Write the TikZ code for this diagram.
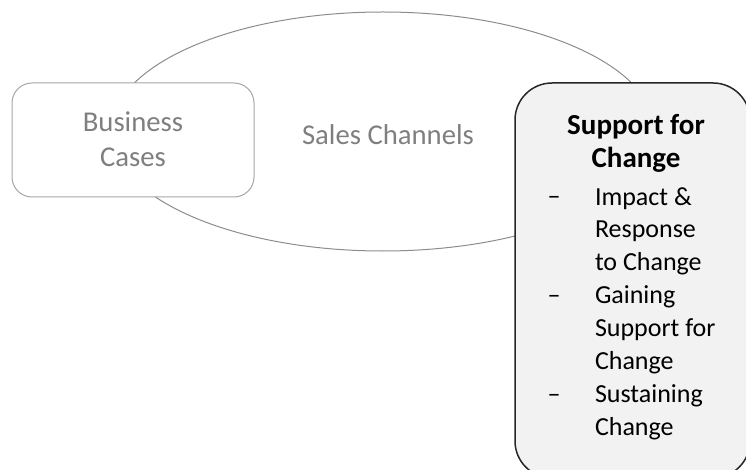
\documentclass[tikz,border=0pt]{standalone}
\usepackage{fontspec}
\setmainfont{Carlito}
\usetikzlibrary{shapes.geometric}
\definecolor{ellline}{HTML}{8C8C8C}
\definecolor{boxline}{HTML}{A6A6A6}
\definecolor{graytext}{HTML}{7F7F7F}
\definecolor{supfill}{HTML}{F2F2F2}
\definecolor{supline}{HTML}{262626}
\tikzset{
  grayfont/.style={text=graytext, font=\fontsize{28.7}{35}\selectfont},
  titlefont/.style={text=black, font=\fontsize{29}{33}\selectfont\bfseries},
  bodyfont/.style={text=black, font=\fontsize{26}{32.9}\selectfont},
  txt/.style={inner sep=0pt, outer sep=0pt},
}
\begin{document}
\begin{tikzpicture}[x=1pt,y=-1pt]
\useasboundingbox (0,0) rectangle (746,470);
% ellipse
\node[ellipse, draw=ellline, line width=1pt, minimum width=544pt, minimum height=239pt, inner sep=0pt] (sales) at (383,131.5) {};
\node[txt, grayfont, anchor=base] (salestext) at (388,145) {Sales Channels};
% business cases
\node[draw=boxline, fill=white, rounded corners=20pt, line width=1pt, minimum width=242pt, minimum height=114pt, inner sep=0pt] (biz) at (133,140) {};
\node[txt, grayfont, anchor=base, align=center] (biztext) at (133,166.7) {Business\\Cases};
% support for change
\node[draw=supline, fill=supfill, rounded corners=37pt, line width=1.5pt, minimum width=235pt, minimum height=395pt, inner sep=0pt] (sup) at (632.5,280.5) {};
\node[txt, titlefont, anchor=base, align=center] (suptitle) at (636,168) {Support for\\Change};
\node[txt, bodyfont, anchor=base] (d1) at (554,205) {--};
\node[txt, bodyfont, anchor=base] (d2) at (554,303.7) {--};
\node[txt, bodyfont, anchor=base] (d3) at (554,402.4) {--};
\node[txt, bodyfont, anchor=base west, align=left] (i1) at (595,270.8) {Impact \&\\Response\\to Change};
\node[txt, bodyfont, anchor=base west, align=left] (i2) at (595,369.5) {Gaining\\Support for\\Change};
\node[txt, bodyfont, anchor=base west, align=left] (i3) at (595,435.3) {Sustaining\\Change};
\end{tikzpicture}
\end{document}
